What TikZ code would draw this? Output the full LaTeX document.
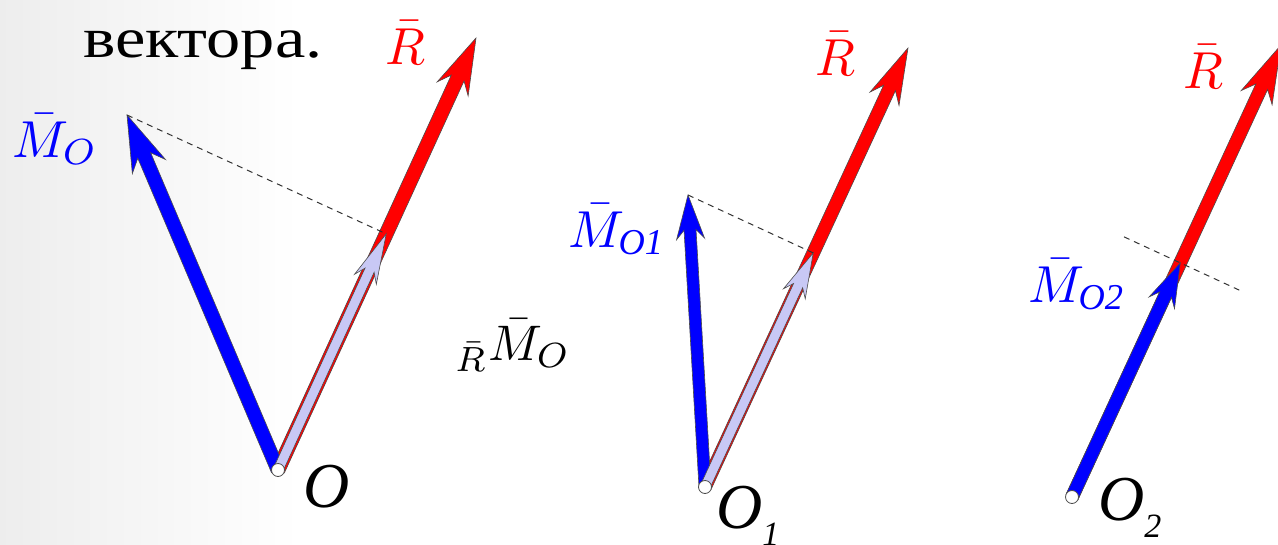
\documentclass[tikz,border=0pt]{standalone}
\usepackage{graphicx}
\usepackage{fontspec}
\setmainfont{Liberation Serif}
\newfontfamily\widefont[FakeStretch=1.2]{Liberation Serif}
\usetikzlibrary{calc}
\definecolor{lav}{RGB}{200,200,245}
\definecolor{myred}{RGB}{255,0,0}
\definecolor{myblue}{RGB}{0,0,255}
\tikzset{
  dotc/.style={circle,draw=black!70,fill=white,line width=0.8pt,minimum size=13pt,inner sep=0pt},
  dashln/.style={draw=black!80,line width=1pt,dash pattern=on 6pt off 5pt},
  lbl/.style={inner sep=0pt},
  olbl/.style={inner sep=0pt,font=\fontsize{64}{70}\selectfont\itshape},
}
\newcommand\biglbl[1]{\scalebox{5.2}{#1}}
\newcommand\osub[1]{\raisebox{-0.28em}{\fontsize{34}{36}\selectfont\itshape #1}}
% start, end, fill, shaft half width, head length, notch length, head half width
\newcommand\fatarrow[7]{%
  \coordinate (fa-h) at ($(#2)!#5!(#1)$);
  \coordinate (fa-n) at ($(#2)!#6!(#1)$);
  \filldraw[fill=#3,draw=black!70,line width=0.6pt,line join=miter]
    ($(#1)!#4!90:(#2)$) -- ($(fa-n)!#4!90:(#2)$) -- ($(fa-h)!#7!90:(#2)$) -- (#2)
    -- ($(fa-h)!#7!-90:(#2)$) -- ($(fa-n)!#4!-90:(#2)$) -- ($(#1)!#4!-90:(#2)$) -- cycle;
}
\begin{document}
\begin{tikzpicture}[x=1pt,y=-1pt]
\useasboundingbox (0,0) rectangle (1278,544);
\fill[white] (0,0) rectangle (1278,544);
\shade[left color=gray!14,right color=white] (0,0) rectangle (300,544);

% ---------- panel 1
\coordinate (O) at (278,470);
\coordinate (R1) at (476,38);
\coordinate (M1) at (127,115);
\coordinate (F1) at ($(O)!(M1)!(R1)$);
\fatarrow{O}{R1}{myred}{7pt}{56pt}{44pt}{17pt}
\fatarrow{O}{M1}{myblue}{7pt}{56pt}{44pt}{18pt}
\fatarrow{O}{F1}{lav}{5pt}{50pt}{40pt}{12pt}
\draw[dashln] (M1) -- (F1);
\node[dotc] (Od) at (O) {};

\node[anchor=base west,inner sep=0pt,font=\fontsize{57}{64}\widefont] (txt) at (83,57) {вектора.};
\node[lbl,anchor=base,text=myred] (Rl1) at (405,64) {\biglbl{$\bar{R}$}};
\node[lbl,anchor=base west,text=myblue] (Ml1) at (12,157) {\biglbl{$\bar{M}_{O}$}};
\node[lbl,anchor=base west] (RM) at (455,360) {\scalebox{5}{${}_{\bar{R}}\bar{M}_{O}$}};
\node[olbl,anchor=base west] (Ol) at (303,507) {O};

% ---------- panel 2
\coordinate (Oa) at (705,487);
\coordinate (R2) at (908,48);
\coordinate (M2) at (688,195);
\coordinate (F2) at ($(Oa)!(M2)!(R2)$);
\fatarrow{Oa}{R2}{myred}{6.5pt}{56pt}{44pt}{16pt}
\fatarrow{Oa}{M2}{myblue}{6pt}{44pt}{35pt}{14pt}
\fatarrow{Oa}{F2}{lav}{5pt}{45pt}{36pt}{12pt}
\draw[dashln] (M2) -- (F2);
\node[dotc] (Oad) at (Oa) {};

\node[lbl,anchor=base,text=myred] (Rl2) at (835,75) {\biglbl{$\bar{R}$}};
\node[lbl,anchor=base west,text=myblue] (Ml2) at (568,247) {\biglbl{$\bar{M}_{\mathit{O1}}$}};
\node[olbl,anchor=base west] (Oal) at (716,528) {O\osub{1}};

% ---------- panel 3
\coordinate (Ob) at (1072,497);
\coordinate (R3) at (1281,45);
\coordinate (M3) at ($(Ob)!0.518!(R3)$);
\coordinate (D1) at ($(M3)!62pt!90:(R3)$);
\coordinate (D2) at ($(M3)!70pt!-90:(R3)$);
\fatarrow{Ob}{R3}{myred}{6.5pt}{58pt}{46pt}{17pt}
\fatarrow{Ob}{M3}{myblue}{6.5pt}{44pt}{35pt}{14pt}
\draw[dashln] (D1) -- (D2);
\node[dotc] (Obd) at (Ob) {};

\node[lbl,anchor=base,text=myred] (Rl3) at (1203,88) {\biglbl{$\bar{R}$}};
\node[lbl,anchor=base west,text=myblue] (Ml3) at (1028,302) {\biglbl{$\bar{M}_{\mathit{O2}}$}};
\node[olbl,anchor=base west] (Obl) at (1098,520) {O\osub{2}};
\end{tikzpicture}
\end{document}
